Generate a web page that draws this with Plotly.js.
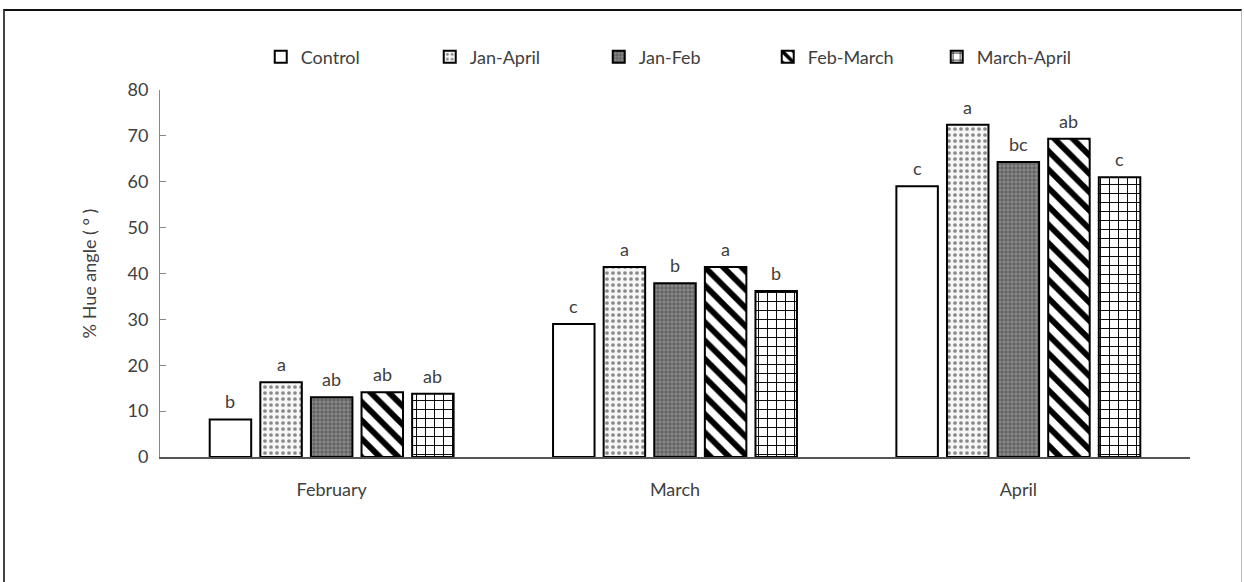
<!DOCTYPE html>
<html>
<head>
<meta charset="utf-8">
<script src="https://cdn.plot.ly/plotly-3.0.1.min.js"></script>
<style>
  html, body { margin: 0; padding: 0; background: #fff; }
  #wrap { position: relative; width: 1244px; height: 582px; overflow: hidden; }
  #chart { width: 1244px; height: 582px; }
  #frame { position: absolute; left: 3px; top: 9px; width: 1236px; height: 600px;
           border-top: 2px solid #111; border-left: 2px solid #444; border-right: 1px solid #bbb;
           pointer-events: none; }
</style>
</head>
<body>
<div id="wrap">
  <div id="chart"></div>
  <div id="frame"></div>
</div>
<script>
const months = ["February", "March", "April"];
const seriesNames = ["Control", "Jan-April", "Jan-Feb", "Feb-March", "March-April"];
const control    = [8.2, 29.0, 59.0];
const janApril   = [16.3, 41.4, 72.4];
const janFeb     = [13.0, 37.9, 64.3];
const febMarch   = [14.1, 41.4, 69.4];
const marchApril = [13.8, 36.2, 61.0];
const lettersControl    = ["b", "c", "c"];
const lettersJanApril   = ["a", "a", "a"];
const lettersJanFeb     = ["ab", "b", "bc"];
const lettersFebMarch   = ["ab", "a", "ab"];
const lettersMarchApril = ["ab", "b", "c"];
const yTicks = [0, 10, 20, 30, 40, 50, 60, 70, 80];

const values = [control, janApril, janFeb, febMarch, marchApril];
const letters = [lettersControl, lettersJanApril, lettersJanFeb, lettersFebMarch, lettersMarchApril];
const patterns = [
  {shape: ""},
  {shape: ".", bgcolor: "#f6f6f6", fgcolor: "#888", size: 6, solidity: 0.3},
  {shape: "+", bgcolor: "#8a8a8a", fgcolor: "#444", size: 4, solidity: 0.3},
  {shape: "\\", bgcolor: "#fff", fgcolor: "#000", size: 13, solidity: 0.45},
  {shape: "+", bgcolor: "#fff", fgcolor: "#000", size: 9, solidity: 0.2}
];
const FONT = "Lato, 'Liberation Sans', sans-serif";
const txtFont = {family: FONT, size: 17, color: "#404040"};

const W = 1244, H = 582;
const margin = {l: 160, r: 54, t: 90, b: 125};
const bargap = 0.263, bargroupgap = 0.18;

const traces = seriesNames.map((name, i) => ({
  type: "bar",
  name: name,
  x: months,
  y: values[i],
  marker: {
    color: "#fff",
    line: {color: "#000", width: 2},
    pattern: patterns[i]
  },
  hoverinfo: "x+y+name"
}));

// letter annotations placed above each bar (pixel offset of each bar inside its group)
const catPx = (W - margin.l - margin.r) / months.length;
const slotPx = catPx * (1 - bargap) / seriesNames.length;
const annotations = [];
seriesNames.forEach((name, i) => {
  months.forEach((m, j) => {
    annotations.push({
      x: m, y: values[i][j], xref: "x", yref: "y",
      text: letters[i][j], showarrow: false,
      xshift: (i - (seriesNames.length - 1) / 2) * slotPx,
      yanchor: "bottom", yshift: 5,
      font: {family: FONT, size: 18, color: "#404040"}
    });
  });
});

const layout = {
  width: W, height: H,
  margin: margin,
  paper_bgcolor: "#fff", plot_bgcolor: "#fff",
  font: txtFont,
  barmode: "group",
  bargap: bargap,
  bargroupgap: bargroupgap,
  showlegend: true,
  annotations: annotations,
  legend: {
    orientation: "h", x: 0.508, xanchor: "center", y: 1.09, yanchor: "middle",
    font: {family: FONT, size: 18, color: "#404040"},
    entrywidth: 124, entrywidthmode: "pixels",
    itemwidth: 30, tracegroupgap: 0, bgcolor: "rgba(0,0,0,0)"
  },
  xaxis: {
    type: "category",
    showline: true, linecolor: "#555", linewidth: 2,
    ticks: "", showgrid: false, zeroline: false,
    ticklabelstandoff: 15,
    tickfont: {family: FONT, size: 18, color: "#404040"}
  },
  yaxis: {
    range: [0, 80],
    tickvals: yTicks,
    showline: true, linecolor: "#888", linewidth: 1,
    ticks: "inside", ticklen: 6, tickcolor: "#888",
    showgrid: false, zeroline: false,
    ticklabelstandoff: 7,
    tickfont: {family: FONT, size: 18, color: "#404040"},
    title: {text: "% Hue angle ( ° )", standoff: 26,
            font: {family: FONT, size: 18, color: "#404040"}}
  }
};

Plotly.newPlot("chart", traces, layout, {displayModeBar: false});
</script>
</body>
</html>
